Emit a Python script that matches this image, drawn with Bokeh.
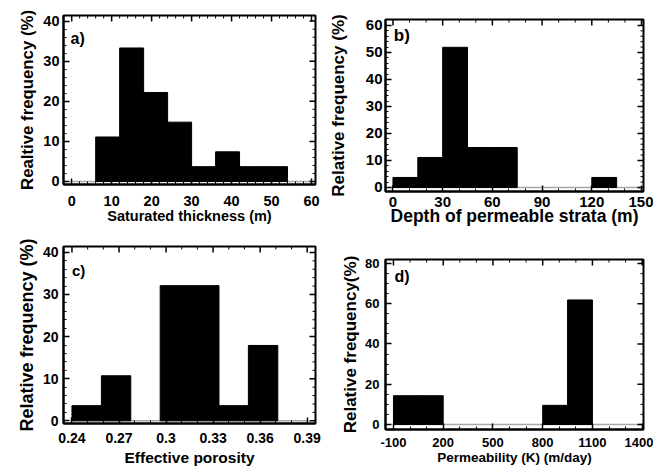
import numpy as np
from bokeh.plotting import figure
from bokeh.layouts import column, row
from bokeh.models import FixedTicker, Range1d, Label
from bokeh.embed import file_html
from bokeh.resources import INLINE

# ---------------- data ----------------
# a) Saturated thickness
a_edges = [0, 6, 12, 18, 24, 30, 36, 42, 48, 54, 60]
a_freq = [0, 11.1, 33.3, 22.2, 14.8, 3.7, 7.4, 3.7, 3.7, 0]
a_xticks = [0, 10, 20, 30, 40, 50, 60]
a_xtick_labels = ["0", "10", "20", "30", "40", "50", "60"]
a_yticks = [0, 10, 20, 30, 40]
a_xlabel = "Saturated thickness (m)"
a_ylabel = "Realtive frequency (%)"

# b) Depth of permeable strata
b_edges = [0, 15, 30, 45, 60, 75, 90, 105, 120, 135, 150]
b_freq = [3.7, 11.1, 51.9, 14.8, 14.8, 0, 0, 0, 3.7, 0]
b_xticks = [0, 30, 60, 90, 120, 150]
b_xtick_labels = ["0", "30", "60", "90", "120", "150"]
b_yticks = [0, 10, 20, 30, 40, 50, 60]
b_xlabel = "Depth of permeable strata (m)"
b_ylabel = "Relative frequency (%)"

# c) Effective porosity
c_edges = [0.24, 0.25875, 0.2775, 0.29625, 0.315, 0.33375, 0.3525, 0.37125, 0.39]
c_freq = [3.6, 10.7, 0, 32.1, 32.1, 3.6, 17.9, 0]
c_xticks = [0.24, 0.27, 0.30, 0.33, 0.36, 0.39]
c_xtick_labels = ["0.24", "0.27", "0.3", "0.33", "0.36", "0.39"]
c_yticks = [0, 10, 20, 30, 40]
c_xlabel = "Effective porosity"
c_ylabel = "Relative frequency (%)"

# d) Permeability
d_edges = [-100, 50, 200, 350, 500, 650, 800, 950, 1100]
d_freq = [14.3, 14.3, 0, 0, 0, 0, 9.5, 61.9]
d_xticks = [-100, 200, 500, 800, 1100, 1400]
d_xtick_labels = ["-100", "200", "500", "800", "1100", "1400"]
d_yticks = [0, 20, 40, 60, 80]
d_xlabel = "Permeability (K) (m/day)"
d_ylabel = "Relative frequency(%)"

SANS = "Liberation Sans"


def minor(ticks, n):
    out = []
    for t0, t1 in zip(ticks[:-1], ticks[1:]):
        out.extend(np.linspace(t0, t1, n + 1)[1:-1].tolist())
    return out


def panel(edges, freq, xticks, xtick_labels, yticks, xn, yn, xr, yr, w, h,
          borders, xlabel, ylabel, letter, st):
    L, R, T, B = borders
    p = figure(width=w, height=h, x_range=Range1d(*xr), y_range=Range1d(*yr),
               output_backend="svg", toolbar_location=None,
               min_border_left=L, min_border_right=R,
               min_border_top=T, min_border_bottom=B)
    p.xgrid.visible = False
    p.ygrid.visible = False
    p.outline_line_color = "black"
    p.outline_line_width = 2
    p.background_fill_color = "white"
    p.border_fill_color = "white"

    # grey zero baseline across the tick range
    p.line(x=[xticks[0], xticks[-1]], y=[0, 0], line_color="#a8a8a8", line_width=1.5)

    e = np.array(edges, dtype=float)
    f = np.array(freq, dtype=float)
    m = f > 0
    p.quad(left=e[:-1][m], right=e[1:][m], top=f[m], bottom=0,
           fill_color="black", line_color="black", line_width=1)

    xmin = minor(xticks, xn)
    ymin = minor(yticks, yn)
    p.xaxis.ticker = FixedTicker(ticks=xticks, minor_ticks=xmin)
    p.yaxis.ticker = FixedTicker(ticks=yticks, minor_ticks=ymin)
    p.xaxis.major_label_overrides = {t: s for t, s in zip(xticks, xtick_labels)}

    # inward ticks on the top and right frame edges
    x_right, y_top = xr[1], yr[1]
    p.ray(x=xticks, y=[y_top] * len(xticks), length=6, length_units="screen",
          angle=-np.pi / 2, line_color="black", line_width=1.5)
    p.ray(x=xmin, y=[y_top] * len(xmin), length=3, length_units="screen",
          angle=-np.pi / 2, line_color="black", line_width=1)
    p.ray(x=[x_right] * len(yticks), y=yticks, length=6, length_units="screen",
          angle=np.pi, line_color="black", line_width=1.5)
    p.ray(x=[x_right] * len(ymin), y=ymin, length=3, length_units="screen",
          angle=np.pi, line_color="black", line_width=1)

    for ax in (p.xaxis[0], p.yaxis[0]):
        ax.axis_line_color = "black"
        ax.axis_line_width = 2
        ax.major_tick_in = 6
        ax.major_tick_out = 0
        ax.minor_tick_in = 3
        ax.minor_tick_out = 0
        ax.major_tick_line_width = 1.5
        ax.minor_tick_line_width = 1
        ax.major_label_text_color = "black"
        ax.major_label_text_font = SANS
        ax.major_label_text_font_style = "bold"
        ax.axis_label_text_font = SANS
        ax.axis_label_text_font_style = "bold"
        ax.axis_label_text_color = "black"

    xa = p.xaxis[0]
    ya = p.yaxis[0]
    xa.axis_label = xlabel
    ya.axis_label = ylabel
    xa.major_label_text_font_size = st["xts"]
    ya.major_label_text_font_size = st["yts"]
    xa.axis_label_text_font_size = st["xls"]
    ya.axis_label_text_font_size = st["yls"]
    xa.major_label_standoff = st["xms"]
    xa.axis_label_standoff = st["xas"]
    ya.major_label_standoff = st["yms"]
    ya.axis_label_standoff = st["yas"]

    fh = h - T - B
    p.add_layout(Label(x=st["lx"], y=fh - st["ly"], x_units="screen", y_units="screen",
                       text=letter, text_font=SANS, text_font_size=st["ls"],
                       text_font_style="bold", text_baseline="top", text_color="black"))
    return p


pa = panel(a_edges, a_freq, a_xticks, a_xtick_labels, a_yticks, 5, 5,
           (-2.05, 61.0), (-0.75, 41.4), 325, 230, (57, 9, 15, 46),
           a_xlabel, a_ylabel, "a)",
           dict(xts="14.5px", yts="14.5px", xls="14.5px", yls="16.8px",
                xms=11, xas=-1, yms=4, yas=3, lx=7, ly=14, ls="16px"))

pb = panel(b_edges, b_freq, b_xticks, b_xtick_labels, b_yticks, 3, 5,
           (-4.5, 151.2), (-1.5, 62.2), 328, 238, (57, 10, 19, 47),
           b_xlabel, b_ylabel, "b)",
           dict(xts="15px", yts="15px", xls="17.5px", yls="17px",
                xms=5, xas=-4, yms=3, yas=15, lx=8.3, ly=6, ls="17px"))

pc = panel(c_edges, c_freq, c_xticks, c_xtick_labels, c_yticks, 3, 5,
           (0.2346, 0.3953), (-0.64, 41.4), 325, 245, (63, 10, 16, 52),
           c_xlabel, c_ylabel, "c)",
           dict(xts="14px", yts="14px", xls="15.5px", yls="18px",
                xms=9, xas=3, yms=5, yas=3, lx=8.4, ly=15, ls="15px"))

pd = panel(d_edges, d_freq, d_xticks, d_xtick_labels, d_yticks, 3, 4,
           (-148, 1408), (-2.5, 82), 328, 237, (51, 9, 21, 46),
           d_xlabel, d_ylabel, "d)",
           dict(xts="13px", yts="13px", xls="13.5px", yls="17px",
                xms=8, xas=0, yms=6, yas=2, lx=9, ly=8.2, ls="16px"))

layout = row(column(pa, pc), column(pb, pd))
open("out.html", "w").write(file_html(layout, INLINE))
